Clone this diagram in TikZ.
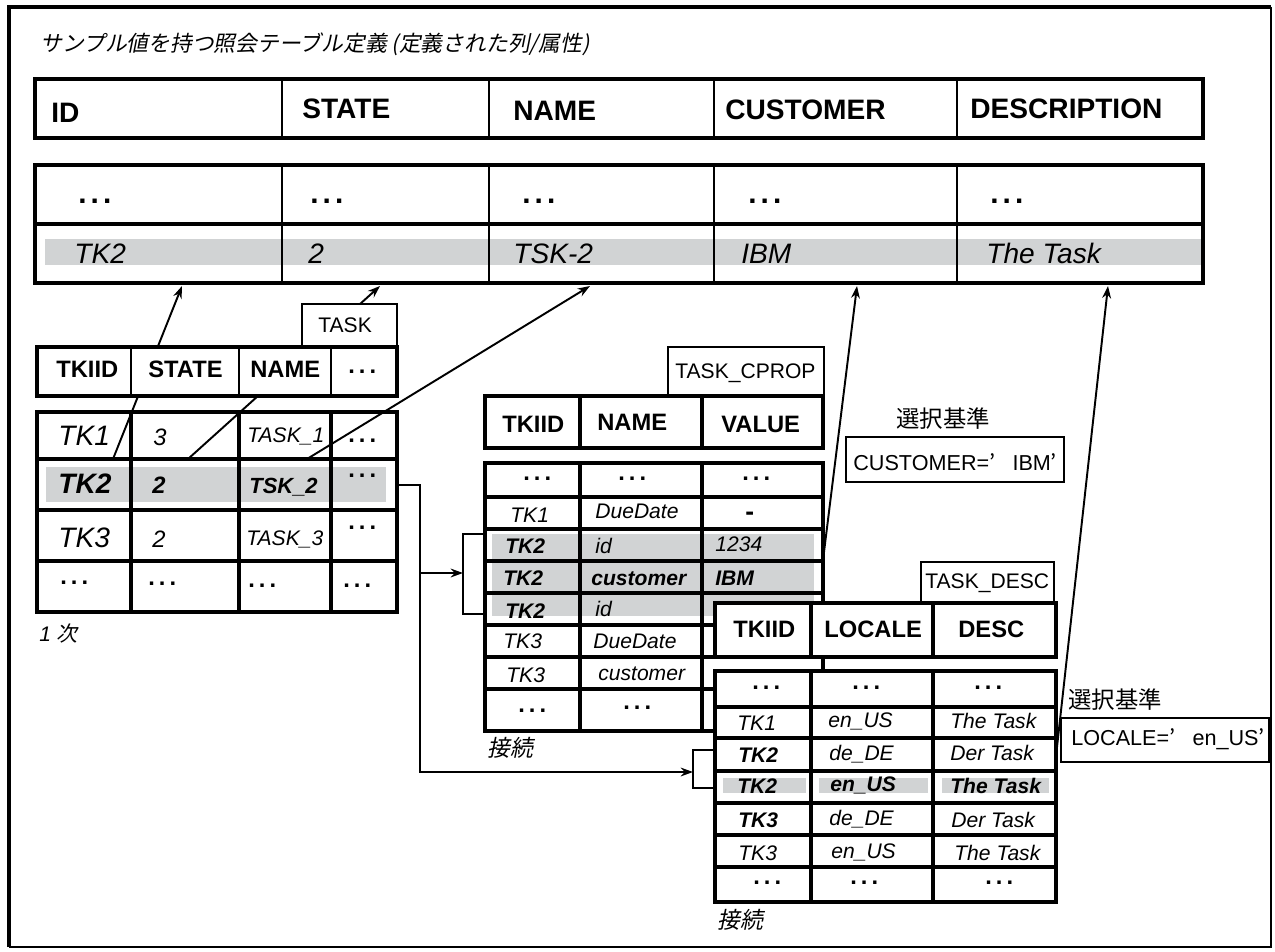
\documentclass[tikz,border=0pt]{standalone}
\usepackage{fontspec}
\setmainfont{Liberation Sans}
\newfontfamily\jp{Noto Sans CJK JP}
\newfontfamily\jpit[FakeSlant=0.2]{Noto Sans CJK JP}
\usepackage{tikz}
\usetikzlibrary{arrows.meta}
\definecolor{rowgray}{RGB}{209,211,212}
\newcommand{\ellip}{\textbf{.\kern2.3pt.\kern2.3pt.}}
\newcommand{\fsz}[1]{\fontsize{#1}{#1}\selectfont}
\newcommand{\jq}{{\jp ’}}
\tikzstyle{border} = [line width=2.3pt]
\tikzstyle{rule} = [line width=1.8pt]
\tikzstyle{hair} = [line width=1.1pt]
\tikzstyle{cell} = [anchor=base west, inner sep=0pt]
\tikzstyle{bighd} = [cell, font=\bfseries\fsz{16pt}]
\tikzstyle{bigval} = [cell, font=\itshape\fsz{16pt}]
\tikzstyle{colhd} = [cell, font=\bfseries\fsz{13.5pt}]
\tikzstyle{val} = [cell, font=\itshape\fsz{12pt}]
\tikzstyle{bval} = [cell, font=\bfseries\itshape\fsz{12pt}]
\tikzstyle{dots} = [cell, font=\fsz{13.5pt}]
\tikzstyle{tag} = [cell, font=\fsz{12pt}]
\tikzstyle{note} = [cell, font=\jpit\fsz{13pt}]
\tikzstyle{arrow} = [line width=1.1pt, -{Stealth[length=7pt, width=5pt]}]
\tikzstyle{link} = [line width=1.1pt]

\begin{document}
\begin{tikzpicture}[x=0.02cm, y=-0.02cm]
    \useasboundingbox (0,0) rectangle (1275,951);
    \draw[border] (9,947) -- (9,7) -- (1271,7);
    \draw[hair] (1271,7) -- (1271,947) -- (9,947);

    \node (title) [cell, font=\jpit\fsz{12.4pt}] at (40,51) {サンプル値を持つ照会テーブル定義 (定義された列/属性)};

    % query table
    \draw[border, fill=white] (35,79) rectangle (1203,138);
    \foreach \x in {282,489,714,957} \draw[hair] (\x,79) -- (\x,138);
    \foreach \x/\y/\t [count=\i] in {51/122/ID, 302/118/STATE, 513/120/NAME, 725/119/CUSTOMER, 970/118/DESCRIPTION}
        \node (hd\i) [bighd] at (\x,\y) {\t};
    \fill[rowgray] (45,239) rectangle (1201,265);
    \draw[border] (35,165) rectangle (1203,283);
    \draw[border] (35,224) -- (1203,224);
    \foreach \x in {282,489,714,957} \draw[hair] (\x,165) -- (\x,283);
    \foreach \x [count=\i] in {78,310,522,748,990}
        \node (dd\i) [cell, font=\fsz{17pt}] at (\x,203) {\ellip};
    \foreach \x/\t [count=\i] in {74/TK2, 308/2, 513/TSK-2, 741/IBM, 986/The Task}
        \node (dv\i) [bigval] at (\x,263) {\t};
    \coordinate (qid) at (182,286);
    \coordinate (qstate) at (380,286);
    \coordinate (qname) at (590,286);
    \coordinate (qcust) at (857,286);
    \coordinate (qdesc) at (1108,286);

    % TASK
    \fill[rowgray] (46,467) rectangle (386,502);
    \draw[border] (37,412) rectangle (397,612);
    \foreach \y in {459,510,561} \draw[rule] (37,\y) -- (397,\y);
    \foreach \x in {131,239,331} \draw[rule] (\x,412) -- (\x,612);
    \node (t1id) [cell, font=\itshape\fsz{16pt}] at (58,445) {TK1};
    \node (t1st) [cell, font=\itshape\fsz{13.5pt}] at (153,445) {3};
    \node (t1nm) [val] at (247,442) {TASK\_1};
    \node (t1x) [dots] at (348,442) {\ellip};
    \node (t2id) [cell, font=\bfseries\itshape\fsz{16pt}] at (58,493) {TK2};
    \node (t2st) [cell, font=\bfseries\itshape\fsz{13.5pt}] at (152,493) {2};
    \node (t2nm) [cell, font=\bfseries\itshape\fsz{12.5pt}] at (249,493) {TSK\_2};
    \node (t2x) [dots] at (348,477) {\ellip};
    \node (t3id) [cell, font=\itshape\fsz{16pt}] at (58,547) {TK3};
    \node (t3st) [cell, font=\itshape\fsz{13.5pt}] at (152,547) {2};
    \node (t3nm) [val] at (246,545) {TASK\_3};
    \node (t3x) [dots] at (348,529) {\ellip};
    \foreach \x/\y [count=\i] in {60/584, 148/585, 248/587, 343/587}
        \node (t4x\i) [dots] at (\x,\y) {\ellip};
    \node (order) [cell, font=\itshape\fsz{12pt}] at (39,641) {1 {\upshape\jpit 次}};
    \coordinate (tkid) at (113,459);
    \coordinate (tkstate) at (188,459);
    \coordinate (tkname) at (307,459);
    \draw[arrow] (tkid) -- (qid);
    \draw[arrow] (tkstate) -- (qstate);
    \draw[arrow] (tkname) -- (qname);
    \draw[hair, fill=white] (302,304) rectangle (397,347);
    \node (tasktag) [tag] at (318,332) {TASK};
    \draw[border, fill=white] (37,347) rectangle (397,396);
    \foreach \x in {131,239,331} \draw[hair] (\x,347) -- (\x,396);
    \foreach \x/\t [count=\i] in {56/TKIID, 148/STATE, 250/NAME}
        \node (th\i) [colhd] at (\x,377) {\t};
    \node (thx) [dots] at (348,373) {\ellip};

    % TASK_CPROP
    \draw[hair, fill=white] (668,347) rectangle (824,396);
    \node (cproptag) [tag] at (675,378) {TASK\_CPROP};
    \draw[border, fill=white] (485,396) rectangle (823,448);
    \foreach \x in {580,702} \draw[rule] (\x,396) -- (\x,448);
    \foreach \x/\y/\t [count=\i] in {502/432/TKIID, 597/430/NAME, 721/432/VALUE}
        \node (ch\i) [colhd] at (\x,\y) {\t};
    \fill[rowgray] (492,534) rectangle (814,616);
    \draw[border] (485,463) rectangle (823,731);
    \foreach \y in {497,529,561,593,625,657,689} \draw[rule] (485,\y) -- (823,\y);
    \foreach \x in {580,702} \draw[rule] (\x,463) -- (\x,731);
    \foreach \x [count=\i] in {523,618,742}
        \node (c1x\i) [dots] at (\x,480) {\ellip};
    \node (c2id) [val] at (510,522) {TK1};
    \node (c2nm) [val] at (595,518) {DueDate};
    \node (c2v) [cell, font=\bfseries\fsz{15pt}] at (745,520) {-};
    \node (c3id) [bval] at (505,553) {TK2};
    \node (c3nm) [val] at (595,553) {id};
    \node (c3v) [val] at (715,551) {1234};
    \node (c4id) [bval] at (503,585) {TK2};
    \node (c4nm) [bval] at (591,585) {customer};
    \node (c4v) [bval] at (715,585) {IBM};
    \node (c5id) [bval] at (505,618) {TK2};
    \node (c5nm) [val] at (595,616) {id};
    \node (c6id) [val] at (503,648) {TK3};
    \node (c6nm) [val] at (593,648) {DueDate};
    \node (c7id) [val] at (506,682) {TK3};
    \node (c7nm) [val] at (598,680) {customer};
    \node (c8x1) [dots] at (518,712) {\ellip};
    \node (c8x2) [dots] at (623,709) {\ellip};
    \node (join1) [note] at (487,756) {接続};

    % links from TASK
    \coordinate (taskout) at (397,485);
    \coordinate (fork) at (420,573);
    \coordinate (cpropin) at (463,573);
    \coordinate (descin) at (693,772);
    \draw[link] (taskout) -| (fork);
    \draw[arrow] (fork) -- (cpropin);
    \draw[arrow] (fork) |- (descin);
    \draw[hair] (485,534) -| (cpropin) |- (485,614);
    \draw[hair] (715,750) -| (descin) |- (715,788);

    % TASK_DESC
    \draw[hair, fill=white] (921,562) rectangle (1054,603);
    \node (desctag) [tag] at (925,588) {TASK\_DESC};
    \draw[border, fill=white] (715,603) rectangle (1056,657);
    \foreach \x in {811,933} \draw[rule] (\x,603) -- (\x,657);
    \foreach \x/\t [count=\i] in {733/TKIID, 824/LOCALE, 958/DESC}
        \node (dh\i) [colhd] at (\x,637) {\t};
    \draw[border, fill=white] (715,671) rectangle (1056,902);
    \fill[rowgray] (723,778) rectangle (806,793);
    \fill[rowgray] (819,778) rectangle (928,793);
    \fill[rowgray] (942,778) rectangle (1049,793);
    \foreach \y in {707,738,771,803,835,867} \draw[rule] (715,\y) -- (1056,\y);
    \foreach \x in {811,933} \draw[rule] (\x,671) -- (\x,902);
    \foreach \x [count=\i] in {752,852,974}
        \node (d1x\i) [dots] at (\x,689) {\ellip};
    \node (d2id) [val] at (737,730) {TK1};
    \node (d2lc) [val] at (828,727) {en\_US};
    \node (d2ds) [val] at (950,728) {The Task};
    \node (d3id) [bval] at (738,762) {TK2};
    \node (d3lc) [val] at (829,760) {de\_DE};
    \node (d3ds) [val] at (950,760) {Der Task};
    \node (d4id) [bval] at (737,793) {TK2};
    \node (d4lc) [bval] at (830,791) {en\_US};
    \node (d4ds) [bval] at (950,793) {The Task};
    \node (d5id) [bval] at (738,827) {TK3};
    \node (d5lc) [val] at (829,825) {de\_DE};
    \node (d5ds) [val] at (951,827) {Der Task};
    \node (d6id) [val] at (738,860) {TK3};
    \node (d6lc) [val] at (831,858) {en\_US};
    \node (d6ds) [val] at (954,860) {The Task};
    \foreach \x [count=\i] in {753,850,985}
        \node (d7x\i) [dots] at (\x,884) {\ellip};
    \node (join2) [note] at (717,928) {接続};

    % criteria
    \coordinate (cpropcust) at (823,560);
    \coordinate (descrow) at (1056,756);
    \draw[arrow] (cpropcust) -- (qcust);
    \draw[arrow] (descrow) -- (qdesc);
    \node (crit1) [cell, font=\jp\fsz{13.3pt}] at (896,427) {選択基準};
    \draw[hair, fill=white] (846,437) rectangle (1064,482);
    \node (custsel) [tag, font=\fsz{12.3pt}] at (853,470) {CUSTOMER=\jq\kern0.8em IBM\jq};
    \node (crit2) [cell, font=\jp\fsz{13.3pt}] at (1068,708) {選択基準};
    \draw[hair, fill=white] (1061,718) rectangle (1269,762);
    \node (localesel) [tag, font=\fsz{12.3pt}] at (1071,745) {LOCALE=\jq\kern0.8em en\_US\jq};
\end{tikzpicture}
\end{document}
